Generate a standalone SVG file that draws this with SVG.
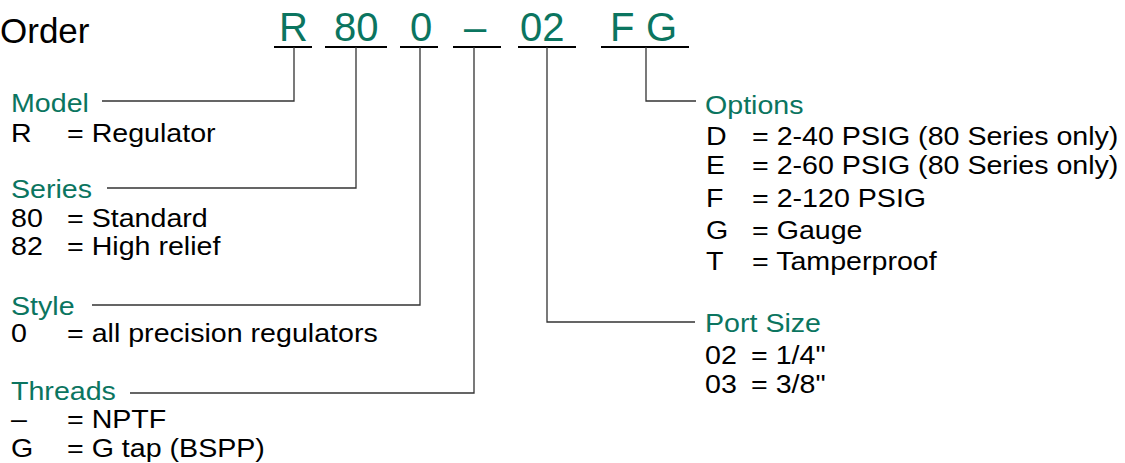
<svg xmlns="http://www.w3.org/2000/svg" width="1125" height="463" viewBox="0 0 1125 463">
<style>
text{font-family:"Liberation Sans",Arial,sans-serif;fill:#000}
.t{font-size:26px}
.h{font-size:26px;fill:#0b7560}
.code{font-size:40px;fill:#0b7560}
.title{font-size:35px}
.ul{stroke:#000;stroke-width:2.2;fill:none}
.c{stroke:#333;stroke-width:1.3;fill:none}
</style>
<rect width="1125" height="463" fill="#fff"/>
<g id="title"><text class="title" x="0" y="43">Order</text></g>
<g id="code">
<g id="code-R"><text class="code" x="279" y="41">R</text><line class="ul" x1="274" y1="47" x2="312" y2="47"/></g>
<g id="code-80"><text class="code" x="334" y="41">80</text><line class="ul" x1="325" y1="47" x2="387" y2="47"/></g>
<g id="code-0"><text class="code" x="410" y="41">0</text><line class="ul" x1="400" y1="47" x2="438" y2="47"/></g>
<g id="code-dash"><text class="code" x="464" y="41">–</text><line class="ul" x1="453" y1="47" x2="501" y2="47"/></g>
<g id="code-02"><text class="code" x="520" y="41">02</text><line class="ul" x1="518" y1="47" x2="576" y2="47"/></g>
<g id="code-FG"><text class="code" x="610" y="41">F</text><text class="code" x="646" y="41">G</text><line class="ul" x1="601" y1="47" x2="689" y2="47"/></g>
</g>
<g id="connectors">
<polyline class="c" points="294,47 294,101 102,101"/>
<polyline class="c" points="356,47 356,188 107,188"/>
<polyline class="c" points="420,47 420,305 92,305"/>
<polyline class="c" points="474,47 474,393 130,393"/>
<polyline class="c" points="547,47 547,322 695,322"/>
<polyline class="c" points="646,47 646,101 696,101"/>
</g>
<g id="model">
<text class="h" transform="translate(11,112) scale(1.1,1)">Model</text>
<text class="t" transform="translate(11,142) scale(1.1,1)">R</text>
<text class="t" transform="translate(67,142) scale(1.1,1)">= Regulator</text>
</g>
<g id="series">
<text class="h" transform="translate(11,198) scale(1.1,1)">Series</text>
<text class="t" transform="translate(11,227) scale(1.1,1)">80</text>
<text class="t" transform="translate(67,227) scale(1.1,1)">= Standard</text>
<text class="t" transform="translate(11,255) scale(1.1,1)">82</text>
<text class="t" transform="translate(67,255) scale(1.1,1)">= High relief</text>
</g>
<g id="style">
<text class="h" transform="translate(11,315) scale(1.1,1)">Style</text>
<text class="t" transform="translate(11,342) scale(1.1,1)">0</text>
<text class="t" transform="translate(67,342) scale(1.1,1)">= all precision regulators</text>
</g>
<g id="threads">
<text class="h" transform="translate(11,400) scale(1.1,1)">Threads</text>
<text class="t" transform="translate(11,428) scale(1.1,1)">–</text>
<text class="t" transform="translate(67,428) scale(1.1,1)">= NPTF</text>
<text class="t" transform="translate(11,457) scale(1.1,1)">G</text>
<text class="t" transform="translate(67,457) scale(1.1,1)">= G tap (BSPP)</text>
</g>
<g id="options">
<text class="h" transform="translate(705,114) scale(1.1,1)">Options</text>
<text class="t" transform="translate(706,145) scale(1.1,1)">D</text>
<text class="t" transform="translate(752,145) scale(1.1,1)">= 2-40 PSIG (80 Series only)</text>
<text class="t" transform="translate(706,174) scale(1.1,1)">E</text>
<text class="t" transform="translate(752,174) scale(1.1,1)">= 2-60 PSIG (80 Series only)</text>
<text class="t" transform="translate(706,207) scale(1.1,1)">F</text>
<text class="t" transform="translate(752,207) scale(1.1,1)">= 2-120 PSIG</text>
<text class="t" transform="translate(706,239) scale(1.1,1)">G</text>
<text class="t" transform="translate(752,239) scale(1.1,1)">= Gauge</text>
<text class="t" transform="translate(706,270) scale(1.1,1)">T</text>
<text class="t" transform="translate(752,270) scale(1.1,1)">= Tamperproof</text>
</g>
<g id="port-size">
<text class="h" transform="translate(705,332) scale(1.1,1)">Port Size</text>
<text class="t" transform="translate(705,364) scale(1.1,1)">02</text>
<text class="t" transform="translate(751,364) scale(1.1,1)">= 1/4"</text>
<text class="t" transform="translate(705,393) scale(1.1,1)">03</text>
<text class="t" transform="translate(751,393) scale(1.1,1)">= 3/8"</text>
</g>
</svg>
